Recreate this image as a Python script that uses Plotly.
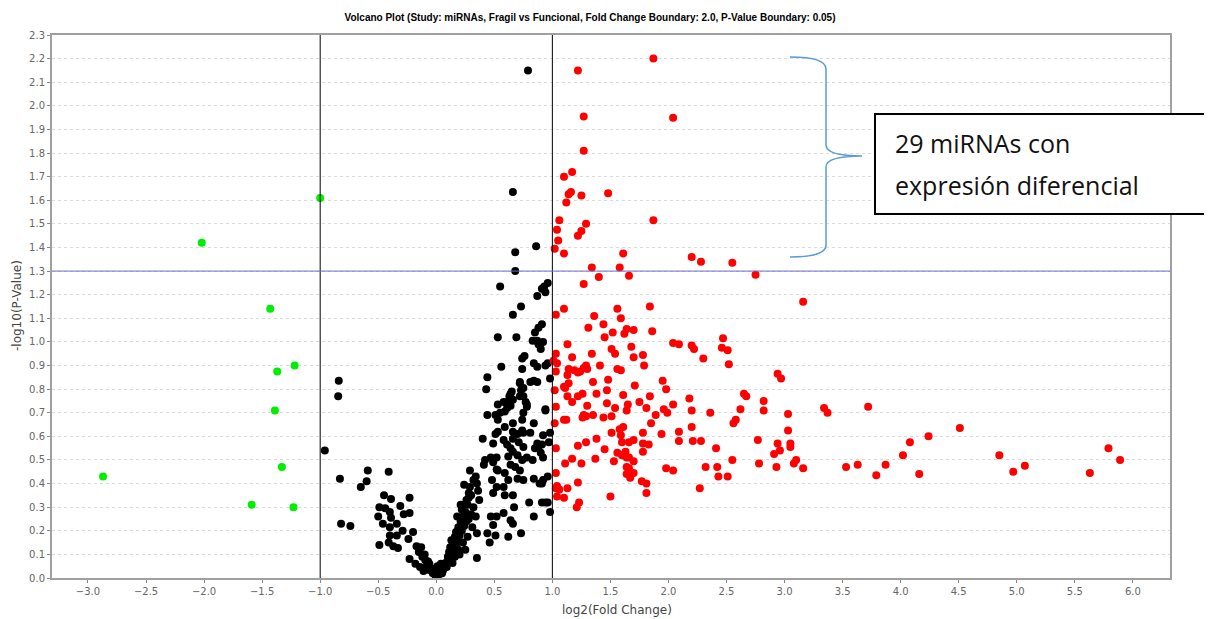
import plotly.graph_objects as go

# ---------------- data (log2 fold change, -log10 p-value) ----------------
green_pts = [(-2.87,0.43),(-2.02,1.42),(-1.00,1.61),(-1.43,1.14),(-1.37,0.875),(-1.22,0.90),
             (-1.39,0.71),(-1.33,0.47),(-1.59,0.31),(-1.23,0.30)]

black_pts = [
 (-0.84,0.835),(-0.845,0.77),(-0.96,0.54),(-0.83,0.42),(-0.82,0.23),(-0.74,0.22),(-0.59,0.455),(-0.60,0.41),
 (-0.65,0.385),(-0.41,0.45),(-0.45,0.35),(-0.39,0.335),(-0.49,0.30),(-0.44,0.295),(-0.23,0.34),(-0.31,0.305),
 (-0.50,0.26),(-0.40,0.28),(-0.39,0.255),(-0.28,0.27),(-0.23,0.275),(-0.46,0.23),(-0.40,0.215),(-0.34,0.23),
 (-0.29,0.20),(-0.40,0.18),(-0.34,0.18),(-0.49,0.14),(-0.41,0.15),(-0.37,0.135),(-0.33,0.127),(-0.24,0.165),
 (-0.20,0.195),(-0.23,0.08),(-0.17,0.135),(-0.15,0.11),(-0.12,0.09),(-0.095,0.076),(-0.14,0.047),(-0.08,0.055),
 (-0.06,0.034),(-0.03,0.02),(-0.01,0.013),(0.02,0.013),(0.05,0.02),(0.06,0.034),(0.09,0.047),(0.09,0.068),
 (0.10,0.09),(0.14,0.105),(0.12,0.13),(0.15,0.15),(0.16,0.175),(0.17,0.195),(0.19,0.215),(0.21,0.24),
 (0.23,0.26),(0.25,0.28),(0.27,0.31),(0.21,0.31),(0.28,0.34),(0.28,0.36),(0.24,0.395),(0.29,0.385),
 (0.32,0.415),(0.35,0.40),(0.29,0.455),(0.34,0.43),(0.36,0.37),(0.37,0.33),(0.32,0.30),(0.34,0.26),
 (0.31,0.215),(0.35,0.19),(0.27,0.175),(0.23,0.15),(0.19,0.12),(0.16,0.09),(0.14,0.064),(0.35,0.085),
 (-0.10,0.10),(-0.07,0.07),(-0.04,0.04),(0.00,0.03),(0.03,0.04),(0.07,0.06),(0.11,0.11),(0.13,0.08),
 (0.17,0.14),(0.18,0.16),(0.20,0.18),(0.22,0.20),(0.24,0.22),(0.26,0.24),(0.13,0.16),(0.15,0.12),
 (0.20,0.10),(0.25,0.12),(0.28,0.25),(0.30,0.27),(0.22,0.29),(0.26,0.33),(0.30,0.35),(0.18,0.26),
 (-0.13,0.13),(-0.18,0.06),(-0.11,0.03),(-0.06,0.06),(0.04,0.06),(0.01,0.05),
 (0.41,0.48),(0.42,0.50),(0.40,0.59),(0.44,0.69),(0.43,0.80),(0.47,0.51),(0.49,0.49),(0.52,0.46),
 (0.48,0.415),(0.52,0.385),(0.49,0.36),(0.47,0.26),(0.49,0.225),(0.52,0.26),(0.44,0.19),(0.46,0.15),
 (0.51,0.18),(0.58,0.275),(0.62,0.175),(0.64,0.245),(0.66,0.23),(0.73,0.19),(0.59,0.35),(0.58,0.385),
 (0.62,0.415),(0.66,0.35),(0.67,0.30),(0.70,0.42),(0.75,0.415),(0.68,0.47),(0.64,0.48),(0.72,0.455),
 (0.59,0.445),(0.53,0.455),(0.84,0.42),(0.89,0.40),(0.80,0.32),(0.84,0.26),(0.91,0.32),(0.96,0.32),
 (0.98,0.28),(0.52,0.51),(0.49,0.57),(0.51,0.61),(0.53,0.62),(0.58,0.585),(0.61,0.565),(0.64,0.55),
 (0.62,0.515),(0.66,0.535),(0.70,0.52),(0.74,0.50),(0.78,0.51),(0.83,0.50),(0.90,0.53),(0.88,0.555),
 (0.87,0.57),(0.75,0.555),(0.71,0.575),(0.66,0.59),(0.70,0.61),(0.74,0.625),(0.66,0.62),(0.59,0.64),
 (0.53,0.67),(0.51,0.69),(0.55,0.70),(0.59,0.705),(0.61,0.72),(0.58,0.745),(0.53,0.735),(0.64,0.73),
 (0.66,0.755),(0.64,0.78),(0.75,0.77),(0.73,0.795),(0.78,0.735),(0.75,0.70),(0.74,0.67),(0.66,0.655),
 (0.75,0.615),(0.81,0.615),(0.84,0.655),(0.92,0.605),(0.98,0.615),(0.97,0.575),(0.85,0.55),(0.81,0.83),
 (0.87,0.83),(0.72,0.83),
 (0.68,1.38),(0.68,1.30),(0.55,1.235),(0.96,1.25),(0.93,1.235),(0.91,1.225),(0.94,1.21),(0.87,1.195),
 (0.73,1.15),(0.66,1.115),(0.91,1.075),(0.88,1.06),(0.85,1.04),(0.53,1.02),(0.69,1.02),(0.83,1.005),
 (0.87,1.005),(0.88,0.99),(0.90,0.97),(0.74,0.93),(0.76,0.94),(0.56,0.895),(0.74,0.885),(0.84,0.91),
 (0.87,0.895),(0.96,0.91),(0.94,0.90),(0.44,0.85),(0.65,0.79),(0.72,0.825),(0.75,0.805),(0.84,0.835),
 (0.98,0.845),(0.63,0.77),(0.61,0.745),(0.72,0.77),(0.77,0.745),(0.78,0.725),(0.94,0.715),
 (0.79,2.15),(0.66,1.635),(0.86,1.405),
 (0.94,0.71),(0.91,0.565),(0.92,0.51),(0.96,0.43),(0.92,0.415),(0.91,0.40),(0.94,0.32),(0.92,1.00),
]

red_pts = [
 (1.87,2.20),(1.22,2.15),(1.27,1.955),(2.04,1.95),(1.27,1.81),(1.17,1.72),(1.10,1.70),(1.16,1.635),
 (1.14,1.625),(1.25,1.62),(1.48,1.63),(1.12,1.59),(1.06,1.515),(1.87,1.515),(1.29,1.50),(1.04,1.475),
 (1.25,1.47),(1.22,1.45),(1.05,1.43),(1.02,1.395),(1.10,1.375),(1.61,1.375),(2.20,1.36),(2.28,1.34),
 (2.55,1.335),(1.34,1.315),(1.58,1.315),(2.75,1.285),(1.40,1.275),(1.66,1.28),(1.27,1.245),
 (1.03,1.115),(1.10,1.14),(1.36,1.11),(1.56,1.14),(1.59,1.10),(1.84,1.15),(1.44,1.075),(1.31,1.06),
 (1.64,1.055),(1.70,1.05),(1.86,1.045),(1.52,1.04),(1.62,1.035),(1.45,1.02),(1.13,0.99),(2.04,0.995),
 (2.09,0.99),(2.20,0.985),(2.22,0.97),(2.47,1.015),(2.46,0.975),(2.51,0.965),(2.30,0.93),(2.52,0.905),
 (1.51,0.97),(1.54,0.95),(1.68,0.98),(1.70,0.935),(1.78,0.945),(1.34,0.95),(1.17,0.935),(1.03,0.95),
 (1.04,0.91),(1.01,0.92),(1.41,0.90),(1.79,0.90),(1.29,0.90),(1.30,0.885),(1.27,0.89),(1.56,0.885),
 (1.59,0.88),(1.14,0.885),(1.19,0.88),(1.22,0.87),(1.24,0.875),(1.13,0.86),(1.03,0.875),(1.48,0.84),
 (1.35,0.83),(1.95,0.835),(1.98,0.80),(1.71,0.815),(1.47,0.795),(1.14,0.825),(1.11,0.805),(1.02,0.795),
 (1.10,0.81),(1.13,0.77),(1.17,0.745),(1.22,0.77),(1.26,0.78),(1.38,0.78),(1.61,0.775),(1.84,0.77),
 (1.75,0.745),(1.47,0.74),(1.03,0.725),(1.30,0.73),(1.54,0.72),(1.65,0.735),(1.64,0.71),(1.81,0.72),
 (2.04,0.735),(2.18,0.76),(2.20,0.71),(1.96,0.715),(1.99,0.70),(1.89,0.69),(2.36,0.70),(2.56,0.655),
 (1.10,0.67),(1.12,0.67),(1.26,0.68),(1.29,0.685),(1.27,0.69),(1.35,0.69),(1.44,0.68),(1.51,0.685),
 (1.02,0.655),(1.85,0.655),(2.20,0.64),(1.58,0.63),(1.61,0.64),(1.51,0.615),(1.78,0.615),(1.94,0.61),
 (2.09,0.62),(2.09,0.58),(2.21,0.58),(2.28,0.58),(2.41,0.55),(1.59,0.605),(1.60,0.575),(1.66,0.575),
 (1.70,0.585),(1.38,0.59),(1.29,0.575),(1.22,0.56),(1.03,0.55),(1.45,0.545),(1.78,0.57),(1.83,0.565),
 (1.78,0.535),(1.56,0.53),(1.60,0.52),(1.63,0.535),(1.64,0.51),(1.66,0.51),(1.17,0.505),(1.37,0.505),
 (1.53,0.495),(1.70,0.495),(1.11,0.485),(1.25,0.485),(2.55,0.50),(1.98,0.465),(2.04,0.455),(2.32,0.47),
 (2.42,0.47),(1.64,0.47),(1.66,0.465),(1.70,0.445),(1.64,0.44),(1.67,0.425),(1.03,0.445),(2.43,0.43),
 (2.51,0.43),(1.77,0.41),(1.81,0.40),(1.81,0.36),(1.22,0.405),(1.13,0.38),(1.06,0.375),(1.04,0.39),
 (1.03,0.38),(2.27,0.38),(1.10,0.34),(1.50,0.345),(1.23,0.32),(1.21,0.30),(1.04,0.345),
 (3.16,1.17),(2.94,0.865),(2.97,0.845),(2.65,0.78),(2.67,0.77),(2.82,0.75),(2.82,0.71),(2.62,0.715),
 (2.58,0.67),(3.03,0.695),(3.34,0.72),(3.37,0.70),(3.72,0.725),(3.03,0.625),(2.77,0.585),(2.94,0.57),
 (3.05,0.57),(3.05,0.555),(2.96,0.54),(2.91,0.525),(3.10,0.50),(3.08,0.485),(2.78,0.485),(2.93,0.47),
 (3.16,0.465),(3.53,0.47),(3.63,0.48),(3.79,0.435),(3.87,0.48),(4.02,0.52),(4.08,0.575),(4.16,0.44),
 (4.24,0.60),(4.51,0.635),(4.85,0.52),(4.97,0.45),(5.07,0.475),(5.63,0.445),(5.79,0.55),(5.89,0.50),
]

fc_boundary = [-1.0, 1.0]
p_boundary = 1.3
title_text = "Volcano Plot (Study: miRNAs, Fragil vs Funcional, Fold Change Boundary: 2.0, P-Value Boundary: 0.05)"
note_lines = ["29 miRNAs con", "expresión diferencial"]

# ---------------- geometry (pixel positions as seen in the page) ----------------
OFF = 8                       # default body margin of the html page
W, H = 1212 - OFF, 619 - OFF  # figure size so that it fits the window
L, R, T, B = 52, 1170, 35, 578  # plot area in page pixels
XR = [-3.31, 6.32]
YR = [0.0, 2.3]

def px_x(px):
    return XR[0] + (px - L) / (R - L) * (XR[1] - XR[0])

def px_y(py):
    return YR[0] + (B - py) / (B - T) * (YR[1] - YR[0])

def pap_x(px):
    return (px - L) / (R - L)

def pap_y(py):
    return (B - py) / (B - T)

fig = go.Figure()
for pts, col in [(black_pts, "#000000"), (red_pts, "#FF0000"), (green_pts, "#00EE00")]:
    fig.add_trace(go.Scatter(
        x=[p[0] for p in pts], y=[p[1] for p in pts], mode="markers",
        marker=dict(color=col, size=8, line=dict(width=0)),
        showlegend=False, hoverinfo="x+y"))

shapes = []
for xv in fc_boundary:
    shapes.append(dict(type="line", xref="x", yref="paper", x0=xv, x1=xv, y0=0, y1=1,
                       line=dict(color="#000000", width=1), layer="above"))
shapes.append(dict(type="line", xref="paper", yref="y", x0=0, x1=1, y0=p_boundary, y1=p_boundary,
                   line=dict(color="#6A6AD0", width=1), layer="above"))

# curly brace
def P(px, py):
    return f"{px_x(px):.4f},{px_y(py):.4f}"
brace = (f"M {P(790,57)} Q {P(826,57)} {P(826,69)} L {P(826,145)} Q {P(826,156)} {P(862,156)} "
         f"Q {P(826,156)} {P(826,167)} L {P(826,245)} Q {P(826,257)} {P(790,257)}")
shapes.append(dict(type="path", xref="x", yref="y", path=brace,
                   line=dict(color="#5B9BD5", width=1.5), layer="above"))
# text box
shapes.append(dict(type="rect", xref="paper", yref="paper",
                   x0=pap_x(875), x1=pap_x(1216), y0=pap_y(214), y1=pap_y(114),
                   line=dict(color="#000000", width=2), fillcolor="#FFFFFF", layer="above"))

note_font = dict(family="Open Sans, Noto Sans, sans-serif", size=25, color="#111111")
annotations = [
    dict(text=note_lines[0], xref="paper", yref="paper", x=pap_x(893), y=pap_y(143),
         xanchor="left", yanchor="middle", showarrow=False, font=note_font),
    dict(text=note_lines[1], xref="paper", yref="paper", x=pap_x(893), y=pap_y(185),
         xanchor="left", yanchor="middle", showarrow=False, font=note_font),
    dict(text="log2(Fold Change)", xref="paper", yref="paper", x=pap_x(617), y=pap_y(610),
         xanchor="center", yanchor="middle", showarrow=False,
         font=dict(family="DejaVu Sans, sans-serif", size=12, color="#444444")),
    dict(text="-log10(P-Value)", xref="paper", yref="paper", x=pap_x(17), y=pap_y(306),
         xanchor="center", yanchor="middle", showarrow=False, textangle=-90,
         font=dict(family="DejaVu Sans, sans-serif", size=12, color="#444444")),
]

axis_font = dict(family="DejaVu Sans, sans-serif", size=10, color="#666666")
fig.update_layout(
    width=W, height=H,
    margin=dict(l=L - OFF, r=W - (R - OFF), t=T - OFF, b=H - (B - OFF), pad=0),
    paper_bgcolor="#FFFFFF", plot_bgcolor="#FFFFFF",
    title=dict(text="<b>" + title_text + "</b>", x=(590 - OFF) / W, xref="container",
               y=1 - (17 - OFF) / H, yref="container", xanchor="center", yanchor="middle",
               font=dict(family="Liberation Sans, Arial, sans-serif", size=10, color="#000000")),
    xaxis=dict(range=XR, tick0=0, dtick=0.5, tickformat=".1f", showgrid=False, zeroline=False,
               showline=True, linecolor="#A0A0A0", linewidth=2, mirror=True,
               ticks="outside", ticklen=3, tickcolor="#888888", tickfont=axis_font, automargin=False),
    yaxis=dict(range=YR, tick0=0, dtick=0.1, tickformat=".1f", showgrid=True, gridcolor="#DADADA",
               griddash="dot", gridwidth=1, zeroline=False,
               showline=True, linecolor="#A0A0A0", linewidth=2, mirror=True,
               ticks="outside", ticklen=3, tickcolor="#888888", tickfont=axis_font, automargin=False),
    shapes=shapes, annotations=annotations,
)

fig.write_html("out.html")
